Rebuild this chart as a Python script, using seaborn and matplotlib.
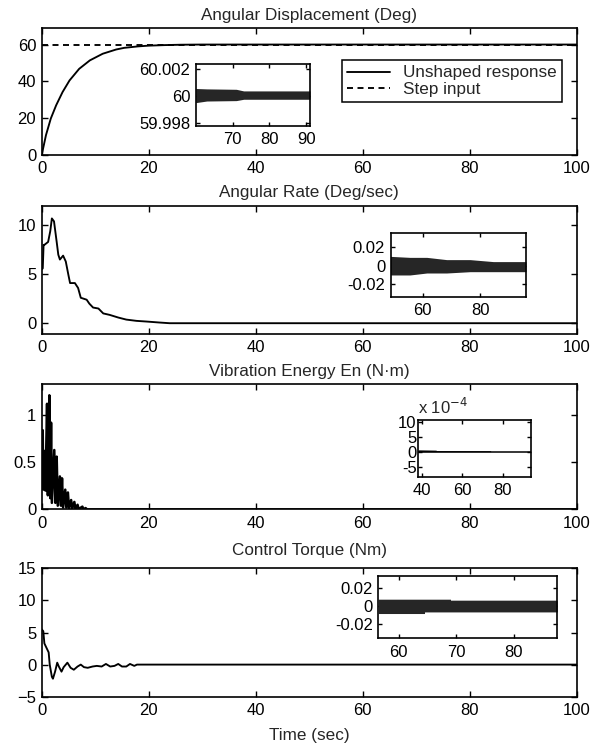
import matplotlib
matplotlib.use("Agg")
import matplotlib.pyplot as plt
from matplotlib.lines import Line2D
import seaborn as sns

# ---------------- data ----------------
# Angular displacement
t_disp = [0, 0.8, 1.7, 2.7, 3.9, 5.2, 7.0, 9.0, 11.4, 13.9, 15.4, 18, 20, 23, 26, 30, 100]
v_disp = [0, 10.8, 19.8, 27, 34.2, 40.5, 46.8, 51.4, 55, 57.3, 58.2, 59.0, 59.4, 59.7, 59.9, 60, 60]
t_step = [0, 100]
v_step = [60, 60]
# inset: displacement band 60..90 s
t_disp_in = [60, 63, 71, 73, 91]
hi_disp_in = [60.00058, 60.00055, 60.00052, 60.00040, 60.00040]
lo_disp_in = [59.99953, 59.99965, 59.99968, 59.99978, 59.99978]

# Angular rate
t_rate = [0, 0.2, 0.35, 0.5, 1.2, 1.6, 1.9, 2.3, 2.8, 3.1, 3.4, 4.0, 4.5, 5.0, 5.3, 6.2, 6.8,
          7.3, 8.4, 8.9, 9.6, 10.6, 11.5, 12.7, 14.3, 15.8, 17.7, 19.6, 22.0, 23.9, 100]
v_rate = [5.5, 5.6, 8.0, 8.0, 8.3, 9.4, 10.7, 10.4, 8.3, 7.0, 6.5, 6.9, 6.3, 4.9, 4.1, 4.1, 3.6,
          2.6, 2.4, 2.0, 1.6, 1.5, 1.0, 0.85, 0.58, 0.37, 0.24, 0.17, 0.07, 0.0, 0.0]
t_rate_in = [48.5, 55.5, 61.4, 68.3, 76.5, 84.6, 96]
hi_rate_in = [0.0099, 0.0088, 0.0088, 0.0064, 0.0064, 0.0043, 0.0043]
lo_rate_in = [-0.0099, -0.0099, -0.0078, -0.0078, -0.0064, -0.0064, -0.0064]

# Vibration energy
t_en = [0.0, 0.19, 0.3, 0.5, 0.7, 1.0, 1.15, 1.43, 1.6, 1.75, 1.9, 2.35, 2.55, 2.8, 3.0, 3.4, 3.6,
        3.8, 4.0, 4.4, 4.6, 4.9, 5.1, 5.5, 5.7, 6.1, 6.3, 6.7, 6.9, 7.6, 7.8, 8.2, 8.5, 9.0, 100]
v_en = [0.5, 0.84, 0.21, 0.62, 0.2, 1.12, 0.15, 1.21, 0.12, 0.92, 0.07, 0.63, 0.07, 0.56, 0.04,
        0.35, 0.04, 0.33, 0.02, 0.21, 0.02, 0.18, 0.01, 0.10, 0.01, 0.08, 0.005, 0.05, 0.004,
        0.03, 0.002, 0.015, 0.0, 0.0, 0.0]
t_en_in = [38, 47, 47.01, 74, 74.01, 94]
hi_en_in = [0.6e-4, 0.5e-4, 0.35e-4, 0.3e-4, 0.0, 0.0]
lo_en_in = [0, 0, 0, 0, 0, 0]

# Control torque
t_tq = [0, 0.3, 0.5, 0.9, 1.3, 1.5, 1.9, 2.1, 2.5, 2.9, 3.2, 3.7, 4.1, 4.8, 5.4, 6.0, 6.7, 7.3,
        7.9, 8.6, 9.5, 10.3, 11.2, 12.0, 12.8, 13.6, 14.3, 15.0, 15.8, 16.5, 17.3, 17.8, 100]
v_tq = [5.5, 5.2, 3.3, 2.6, 1.9, 0.0, -1.9, -2.2, -1.1, 0.3, -0.3, -1.1, -0.4, 0.3, -0.5, -0.8,
        -0.3, 0.0, -0.4, -0.5, -0.3, -0.2, -0.3, 0.1, -0.3, -0.2, 0.1, -0.3, -0.3, 0.1, -0.2, 0, 0]
t_tq_in = [56.5, 64.5, 64.51, 69, 69.01, 87.5]
hi_tq_in = [0.0079, 0.0079, 0.0079, 0.0079, 0.0068, 0.0068]
lo_tq_in = [-0.0082, -0.0082, -0.0064, -0.0064, -0.0064, -0.0064]

titles = ["Angular Displacement (Deg)", "Angular Rate (Deg/sec)",
          "Vibration Energy En (N\u00b7m)", "Control Torque (Nm)"]
x_ticks_main = [0, 20, 40, 60, 80, 100]

# ---------------- style ----------------
FS = 12
sns.set_style("ticks")
plt.rcParams["font.family"] = ["Liberation Sans", "DejaVu Sans"]
plt.rcParams.update({
    "font.size": FS,
    "xtick.direction": "in", "ytick.direction": "in",
    "xtick.top": True, "ytick.right": True,
    "xtick.major.size": 4, "ytick.major.size": 4,
    "xtick.major.width": 1.0, "ytick.major.width": 1.0,
    "axes.linewidth": 1.2, "axes.edgecolor": "black",
    "xtick.color": "black", "ytick.color": "black",
    "xtick.labelsize": FS, "ytick.labelsize": FS,
    "xtick.major.pad": 4.5, "ytick.major.pad": 4,
})

fig = plt.figure(figsize=(6.0, 7.48), dpi=100)
L, W = 0.0695, 0.892
main_pos = [(L, 0.7928, W, 0.1698), (L, 0.5535, W, 0.1715),
            (L, 0.3189, W, 0.1678), (L, 0.0686, W, 0.1716)]
inset_pos = [(0.3262, 0.8316, 0.1905, 0.0829), (0.6512, 0.6033, 0.2255, 0.0856),
             (0.6967, 0.3627, 0.1883, 0.0758), (0.6305, 0.1467, 0.2983, 0.0833)]

def style_axes(ax):
    for s in ax.spines.values():
        s.set_visible(True)
        s.set_color("black")
    ax.tick_params(which="both", top=True, right=True, direction="in")
    ax.set_xlabel("")
    ax.set_ylabel("")

LW = 1.35
DASH = (0, (3.2, 2.4))
axes = [fig.add_axes(p) for p in main_pos]

# Panel 1
ax = axes[0]
sns.lineplot(x=t_step, y=v_step, ax=ax, color="black", lw=LW, linestyle=DASH)
sns.lineplot(x=t_disp, y=v_disp, ax=ax, color="black", lw=LW, estimator=None)
ax.set_ylim(0, 69)
ax.set_yticks([0, 20, 40, 60])
h = [Line2D([], [], color="black", lw=LW), Line2D([], [], color="black", lw=LW, linestyle=DASH)]
leg = ax.legend(h, ["Unshaped response", "Step input"], loc="upper left",
                bbox_to_anchor=(0.561, 0.745), frameon=True, fancybox=False,
                edgecolor="black", framealpha=1, handlelength=2.5, borderpad=0.3,
                labelspacing=0.1, handletextpad=0.8, borderaxespad=0, fontsize=12.3)
leg.get_frame().set_linewidth(1.1)

# Panel 2
ax = axes[1]
sns.lineplot(x=t_rate, y=v_rate, ax=ax, color="black", lw=LW, estimator=None)
ax.set_ylim(-1.1, 12)
ax.set_yticks([0, 5, 10])

# Panel 3
ax = axes[2]
sns.lineplot(x=t_en, y=v_en, ax=ax, color="black", lw=1.8, estimator=None)
ax.set_ylim(0, 1.33)
ax.set_yticks([0, 0.5, 1])
ax.set_yticklabels(["0", "0.5", "1"])

# Panel 4
ax = axes[3]
sns.lineplot(x=t_tq, y=v_tq, ax=ax, color="black", lw=LW, estimator=None)
ax.set_ylim(-5, 15)
ax.set_yticks([-5, 0, 5, 10, 15])

pads = [6.0, 6.0, 6.0, 9.5]
for ax, title, pad in zip(axes, titles, pads):
    ax.set_xlim(0, 100)
    ax.set_xticks(x_ticks_main)
    style_axes(ax)
    ax.set_title(title, fontsize=12.3, pad=pad)
axes[3].set_xlabel("Time (sec)", fontsize=12.3, labelpad=7)

# ---------------- insets ----------------
band = "#262626"
ins = [fig.add_axes(p) for p in inset_pos]

a = ins[0]
a.fill_between(t_disp_in, lo_disp_in, hi_disp_in, color=band, lw=0)
a.set_xlim(60, 91)
a.set_ylim(59.9978, 60.0024)
a.set_xticks([70, 80, 90])
a.set_yticks([59.998, 60, 60.002])
a.set_yticklabels(["59.998", "60", "60.002"])

a = ins[1]
a.fill_between(t_rate_in, lo_rate_in, hi_rate_in, color=band, lw=0)
a.set_xlim(48.8, 96)
a.set_ylim(-0.033, 0.035)
a.set_xticks([60, 80])
a.set_yticks([-0.02, 0, 0.02])
a.set_yticklabels(["-0.02", "0", "0.02"])

a = ins[2]
a.fill_between(t_en_in, lo_en_in, hi_en_in, color="black", lw=0)
sns.lineplot(x=[38, 94], y=[0, 0], ax=a, color="black", lw=1.1)
a.set_xlim(38, 94)
a.set_ylim(-8.4e-4, 10.6e-4)
a.set_xticks([40, 60, 80])
a.set_yticks([-5e-4, 0, 5e-4, 10e-4])
a.set_yticklabels(["-5", "0", "5", "10"])
a.tick_params(axis="y", pad=1)
a.text(0.0, 1.06, r"x 10$^{-4}$", transform=a.transAxes, ha="left", va="bottom", fontsize=FS)

a = ins[3]
a.fill_between(t_tq_in, lo_tq_in, hi_tq_in, color=band, lw=0)
a.set_xlim(56.5, 87.5)
a.set_ylim(-0.036, 0.034)
a.set_xticks([60, 70, 80])
a.set_yticks([-0.02, 0, 0.02])
a.set_yticklabels(["-0.02", "0", "0.02"])

for a in ins:
    a.set_facecolor("white")
    style_axes(a)
    a.tick_params(length=3)

fig.savefig("out.png", dpi=100, facecolor="white")
